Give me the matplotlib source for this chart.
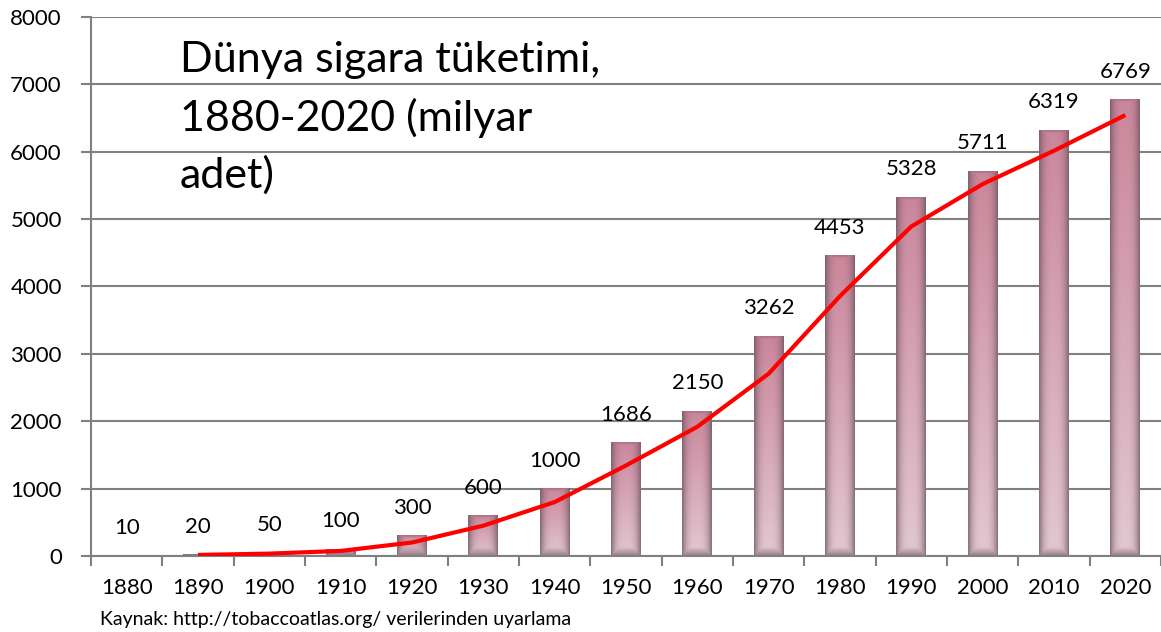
import numpy as np
import matplotlib.pyplot as plt

# veriler (milyar adet)
years = ['1880', '1890', '1900', '1910', '1920', '1930', '1940', '1950',
         '1960', '1970', '1980', '1990', '2000', '2010', '2020']
values = [10, 20, 50, 100, 300, 600, 1000, 1686, 2150, 3262, 4453, 5328, 5711, 6319, 6769]
# hareketli ortalama egilim cizgisi (1890'dan itibaren)
trend_years = years[1:]
trend_values = [15, 35, 75, 200, 450, 800, 1343, 1918, 2706, 3858, 4891, 5520, 6015, 6544]

title_text = 'Dünya sigara tüketimi,\n1880-2020 (milyar\nadet)'
source_text = 'Kaynak: http://tobaccoatlas.org/ verilerinden uyarlama'

plt.rcParams['font.family'] = ['Lato', 'DejaVu Sans']

fig = plt.figure(figsize=(11.61, 6.32), dpi=100)
ax = fig.add_axes([0.0784, 0.1203, 0.9216, 0.8528])

ymax = 8000
ax_px = 0.8528 * 632
x = np.arange(len(years))
bar_w = 0.42

top_col = np.array([203, 134, 155]) / 255
bot_col = np.array([226, 200, 210]) / 255
dark_col = np.array([105, 82, 92]) / 255


def bar_image(v):
    h_px = max(int(round(v / ymax * ax_px)), 2)
    rows = h_px * 2
    t = np.linspace(0, 1, rows)[:, None]
    s = np.linspace(-1, 1, 60)[None, :]
    base = top_col[None, None, :] * (1 - t[..., None]) + bot_col[None, None, :] * t[..., None]
    d_top = t * h_px
    d_bot = (1 - t) * h_px
    sh = np.abs(s) ** 3
    vb = np.clip(1 - d_bot / 9, 0, 1) * 0.85
    vt = np.clip(1 - d_top / 3, 0, 1) * 0.5
    dark = np.maximum(sh, np.maximum(vb, vt)) * 0.75
    img = base * (1 - dark[..., None]) + dark_col[None, None, :] * dark[..., None]
    return img


for xi, v in zip(x, values):
    ax.imshow(bar_image(v), extent=(xi - bar_w / 2, xi + bar_w / 2, 0, v),
              aspect='auto', zorder=2, interpolation='bilinear')
    ax.annotate(str(v), (xi, v), xytext=(0, 20), textcoords='offset points',
                ha='center', va='center', fontsize=16, zorder=4)

tx = [years.index(y) for y in trend_years]
ax.plot(tx, trend_values, color='#ff0000', lw=3, zorder=3, solid_capstyle='butt')

ax.set_xlim(-0.5, len(years) - 0.5)
ax.set_ylim(0, ymax)
ax.set_yticks(range(0, 8001, 1000))
ax.set_xticks(x)
ax.set_xticklabels(years, fontsize=16)
ax.set_xticks(np.arange(-0.5, len(years), 1), minor=True)
ax.tick_params(axis='x', which='major', length=0, pad=16)
ax.tick_params(axis='x', which='minor', length=7, width=1.5, color='#808080')
ax.tick_params(axis='y', labelsize=16, length=7, width=1.5, color='#808080', pad=14)
ax.grid(axis='y', color='#808080', lw=1.5, zorder=1)
ax.set_axisbelow(True)
for side in ['top', 'right']:
    ax.spines[side].set_visible(False)
for side in ['left', 'bottom']:
    ax.spines[side].set_color('#808080')
    ax.spines[side].set_linewidth(1.5)

ax.text(0.745, 7640, title_text, fontsize=31, va='top', ha='left',
        linespacing=1.55, zorder=5)
fig.text(100 / 1161, 1 - 620 / 632, source_text, fontsize=14, va='center', ha='left')

fig.savefig('out.png', dpi=100)
